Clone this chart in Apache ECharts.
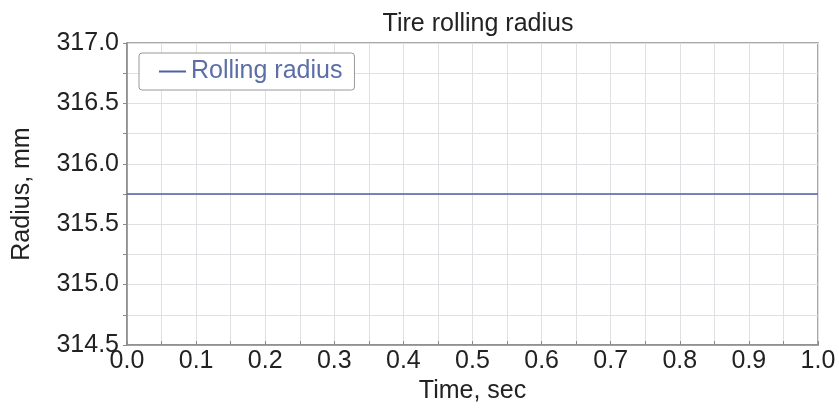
<!DOCTYPE html>
<html>
<head>
<meta charset="utf-8">
<script src="https://cdn.jsdelivr.net/npm/echarts@6/dist/echarts.min.js"></script>
<style>
html,body{margin:0;padding:0;background:#fff;}
#chart{width:839px;height:409px;}
</style>
</head>
<body>
<div id="chart"></div>
<script>
// Data
var chartTitle = 'Tire rolling radius';
var seriesName = 'Rolling radius';
var timeSec = [0.0, 1.0];
var rollingRadius = [315.75, 315.75];
var xTicks = [0.0, 0.1, 0.2, 0.3, 0.4, 0.5, 0.6, 0.7, 0.8, 0.9, 1.0];
var yTicks = [314.5, 315.0, 315.5, 316.0, 316.5, 317.0];
var xAxisName = 'Time, sec';
var yAxisName = 'Radius, mm';

var FONT = '"Liberation Sans", Arial, sans-serif';
var chart = echarts.init(document.getElementById('chart'), null, {renderer: 'canvas'});
var pts = timeSec.map(function (t, i) { return [t, rollingRadius[i]]; });

chart.setOption({
  animation: false,
  backgroundColor: '#fff',
  title: {
    text: chartTitle,
    left: 473, top: 7, textAlign: 'center',
    textStyle: {fontFamily: FONT, fontSize: 25, fontWeight: 'normal', color: '#222'}
  },
  legend: {
    left: 139, top: 53,
    orient: 'vertical',
    padding: [6, 12, 6, 20],
    backgroundColor: '#fff',
    borderColor: '#999', borderWidth: 1, borderRadius: 3,
    itemWidth: 27, itemHeight: 2, itemGap: 5,
    icon: 'rect',
    textStyle: {fontFamily: FONT, fontSize: 25, color: '#5b6ea8', padding: [0, 0, 0, 0]},
    data: [seriesName]
  },
  grid: {
    left: 127, right: 21, top: 43, bottom: 64,
    show: true, borderColor: '#8a8a8a', borderWidth: 1.5, backgroundColor: 'transparent'
  },
  xAxis: {
    type: 'value',
    min: xTicks[0], max: xTicks[xTicks.length - 1], interval: 0.1,
    name: xAxisName, nameLocation: 'middle', nameGap: 30,
    nameTextStyle: {fontFamily: FONT, fontSize: 25, color: '#222'},
    axisLine: {show: true, lineStyle: {color: '#8a8a8a', width: 1.5}},
    axisTick: {show: true, inside: true, length: 4, lineStyle: {color: '#8a8a8a'}},
    minorTick: {show: true, splitNumber: 2, length: 4, lineStyle: {color: '#8a8a8a'}},
    axisLabel: {fontFamily: FONT, fontSize: 25, color: '#222', margin: 4,
      formatter: function (v) { return v.toFixed(1); }},
    splitLine: {show: true, lineStyle: {color: '#e0e0e4', width: 1}},
    minorSplitLine: {show: true, lineStyle: {color: '#e0e0e4', width: 1}}
  },
  yAxis: {
    type: 'value',
    min: yTicks[0], max: yTicks[yTicks.length - 1], interval: 0.5,
    name: yAxisName, nameLocation: 'middle', nameGap: 92,
    nameTextStyle: {fontFamily: FONT, fontSize: 25, color: '#222'},
    axisLine: {show: true, lineStyle: {color: '#8a8a8a', width: 1.5}},
    axisTick: {show: true, length: 4, lineStyle: {color: '#8a8a8a'}},
    minorTick: {show: true, splitNumber: 2, length: 4, lineStyle: {color: '#8a8a8a'}},
    axisLabel: {fontFamily: FONT, fontSize: 25, color: '#222', margin: 8,
      formatter: function (v) { return v.toFixed(1); }},
    splitLine: {show: true, lineStyle: {color: '#e0e0e4', width: 1}},
    minorSplitLine: {show: true, lineStyle: {color: '#e0e0e4', width: 1}}
  },
  series: [{
    name: seriesName,
    type: 'line',
    data: pts,
    showSymbol: false,
    symbol: 'none',
    color: '#4d62a3',
    lineStyle: {color: '#4d62a3', width: 1.5}
  }]
});
</script>
</body>
</html>
